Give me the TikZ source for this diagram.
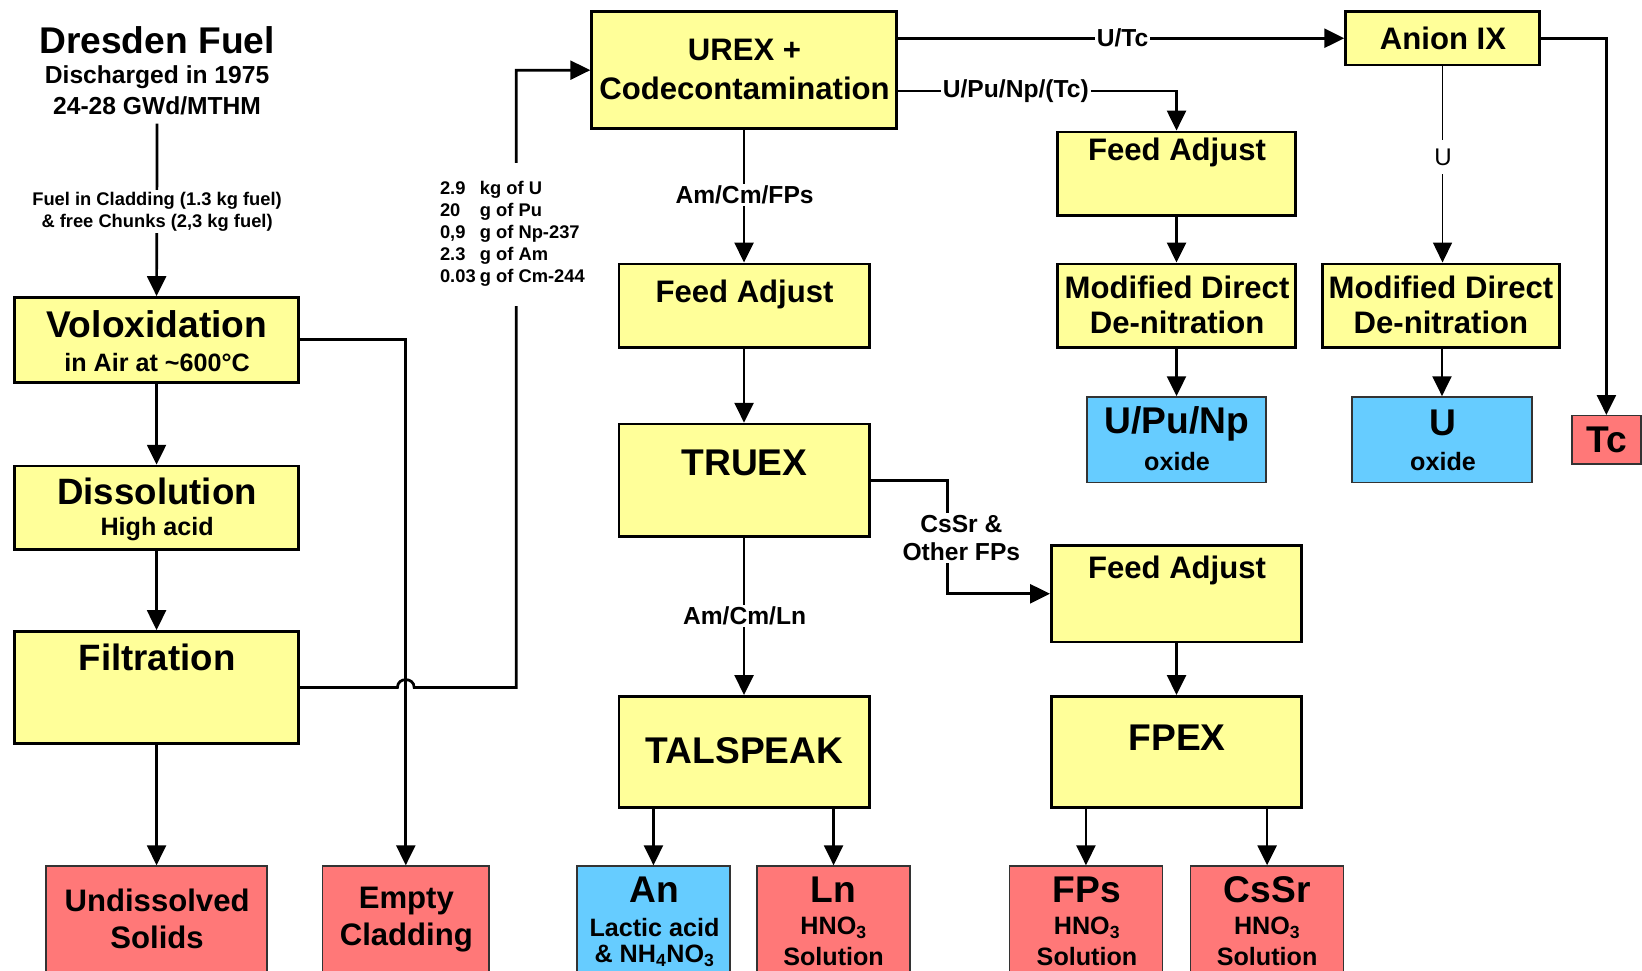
\documentclass[tikz,border=0pt]{standalone}
\usepackage{fontspec}
\setmainfont{Liberation Sans}
\usetikzlibrary{arrows.meta,fit,calc}
\definecolor{yel}{HTML}{FFFF99}
\definecolor{redb}{HTML}{FF7878}
\definecolor{blub}{HTML}{66CCFF}
\begin{document}
\begin{tikzpicture}[x=1pt,y=-1pt,
  ybox/.style={draw=black,line width=2.6pt,fill=yel,inner sep=0pt},
  rbox/.style={draw=black!80,line width=1.4pt,fill=redb,inner sep=0pt},
  bbox/.style={draw=black!80,line width=1.4pt,fill=blub,inner sep=0pt},
  conn/.style={line width=2.6pt,-{Triangle[length=19pt,width=18pt]}},
  thin conn/.style={line width=1.6pt,-{Triangle[length=19pt,width=18pt]}},
  big/.style={inner sep=0pt,font=\fontsize{35.5}{40}\selectfont\bfseries},
  bigb/.style={inner sep=0pt,font=\fontsize{35}{40}\selectfont\bfseries},
  med/.style={inner sep=0pt,font=\fontsize{29.7}{34}\selectfont\bfseries},
  sml/.style={inner sep=0pt,font=\fontsize{24}{28}\selectfont\bfseries},
  lab/.style={fill=white,inner sep=2pt,font=\fontsize{23.5}{27}\selectfont\bfseries,align=center},
  labr/.style={fill=white,inner sep=2pt,font=\fontsize{23}{26}\selectfont},
]
\clip (0,0) rectangle (1568,927);
\fill[white] (0,0) rectangle (1568,927);

% ---- boxes ----
\node[ybox,fit={(14,284)(285,365)}] (volox) {};
\node[ybox,fit={(14,445)(285,525)}] (diss) {};
\node[ybox,fit={(14,603)(285,710)}] (filt) {};
\node[rbox,fit={(44,827)(255,940)}] (undis) {};
\node[rbox,fit={(308,827)(467,940)}] (empty) {};
\node[ybox,fit={(565,11)(856,123)}] (urex) {};
\node[ybox,fit={(591,252)(830,332)}] (fa2) {};
\node[ybox,fit={(591,405)(830,512)}] (truex) {};
\node[ybox,fit={(591,665)(830,771)}] (tals) {};
\node[bbox,fit={(551,827)(697,940)}] (an) {};
\node[rbox,fit={(723,827)(869,940)}] (ln) {};
\node[ybox,fit={(1010,126)(1237,206)}] (fa1) {};
\node[ybox,fit={(1010,252)(1237,332)}] (mdd1) {};
\node[bbox,fit={(1038,379)(1209,461)}] (upu) {};
\node[ybox,fit={(1285,11)(1470,62)}] (anion) {};
\node[ybox,fit={(1263,252)(1489,332)}] (mdd2) {};
\node[bbox,fit={(1291,379)(1463,461)}] (uox) {};
\node[rbox,fit={(1501,397)(1567,443)}] (tc) {};
\node[ybox,fit={(1004,521)(1243,613)}] (fa3) {};
\node[ybox,fit={(1004,665)(1243,771)}] (fpex) {};
\node[rbox,fit={(964,827)(1110,940)}] (fps) {};
\node[rbox,fit={(1137,827)(1283,940)}] (cssr) {};

% ---- title ----
\node[inner sep=0pt,font=\fontsize{35.5}{40}\selectfont\bfseries] (dres1) at (150,38) {Dresden Fuel};
\node[inner sep=0pt,font=\fontsize{23.5}{27}\selectfont\bfseries] (dres2) at (150,74) {Discharged in 1975};
\node[inner sep=0pt,font=\fontsize{23.5}{27}\selectfont\bfseries] (dres3) at (150,101) {24-28 GWd/MTHM};

% ---- connectors ----
\draw[conn] ($(dres3.south)+(0,8)$) -- (volox.north);
\draw[conn] (volox) -- (diss);
\draw[conn] (diss) -- (filt);
\draw[conn] (filt) -- (undis);
\draw[conn] (volox.east) -| (empty.north);
\draw[conn] (filt.east) -- ($(empty.north |- filt.east)+(-8,0)$)
  .. controls ($(empty.north |- filt.east)+(-8,-10)$) and ($(empty.north |- filt.east)+(8,-10)$) ..
  ($(empty.north |- filt.east)+(8,0)$) -- (493,656.5) |- (urex.west);
\draw[conn] (urex.east |- anion.west) -- (anion.west);
\draw[conn] ($(urex.east)+(0,20)$) -| (fa1.north);
\draw[conn] (urex.south) -- (fa2.north);
\draw[conn] (fa2) -- (truex);
\draw[conn] (truex) -- (tals);
\draw[conn] (an.north |- tals.south) -- (an.north);
\draw[conn] (ln.north |- tals.south) -- (ln.north);
\draw[conn] (truex.east) -- (905,458.5) |- (fa3.west);
\draw[conn] (fa3) -- (fpex);
\draw[conn] (fps.north |- fpex.south) -- (fps.north);
\draw[conn] (cssr.north |- fpex.south) -- (cssr.north);
\draw[conn] (fa1) -- (mdd1);
\draw[conn] (mdd1) -- (upu);
\draw[thin conn] (anion.south) -- (anion.south |- mdd2.north);
\draw[conn] (mdd2.south -| uox.north) -- (uox.north);
\draw[conn] (anion.east) -| (tc.north);

% ---- connector labels ----
\node[lab,font=\fontsize{17.5}{21}\selectfont\bfseries] (flab) at (150,202)
  {Fuel in Cladding (1.3 kg fuel)\\\& free Chunks (2,3 kg fuel)};
\node[fill=white,inner xsep=2pt,inner ysep=16pt,anchor=west,
  font=\fontsize{17.5}{21}\selectfont\bfseries] (mass) at (418,224)
  {\begin{tabular}{@{}l@{\hspace{4pt}}l@{}}
   2.9 & kg of U\\ 20 & g of Pu\\ 0,9 & g of Np-237\\ 2.3 & g of Am\\ 0.03 & g of Cm-244
   \end{tabular}};
\node[lab] (lutc) at (1072,36) {U/Tc};
\node[lab] (lupu) at (970,87) {U/Pu/Np/(Tc)};
\node[lab] (lamfp) at (711,186) {Am/Cm/FPs};
\node[labr,inner ysep=8pt] (lu) at (1378,150) {U};
\node[lab] (lcssr) at (918,514) {CsSr \&\\Other FPs};
\node[lab] (lamln) at (711,588) {Am/Cm/Ln};

% ---- box texts ----
\node[big] at (150,310) {Voloxidation};
\node[sml] at (150,346) {in Air at \textasciitilde600\textdegree C};
\node[bigb] at (150,469) {Dissolution};
\node[sml] at (150,505) {High acid};
\node[bigb] at (150,628) {Filtration};
\node[med] at (150,860) {Undissolved};
\node[med] at (150,895) {Solids};
\node[med] at (388,860) {Empty};
\node[med] at (388,895) {Cladding};
\node[med] at (711,48) {UREX +};
\node[med] at (711,84) {Codecontamination};
\node[med] at (711,281) {Feed Adjust};
\node[big] at (711,442) {TRUEX};
\node[big] at (711,717) {TALSPEAK};
\node[big] at (625,850) {An};
\node[sml] at (625,886) {Lactic acid};
\node[sml] at (625,913) {\& NH\textsubscript{4}NO\textsubscript{3}};
\node[big] at (796,850) {Ln};
\node[sml] at (796,886) {HNO\textsubscript{3}};
\node[sml] at (796,913) {Solution};
\node[med] at (1124,146) {Feed Adjust};
\node[med] at (1124,274) {Modified Direct};
\node[med] at (1124,308) {De-nitration};
\node[big] at (1124,405) {U/Pu/Np};
\node[sml] at (1124,441) {oxide};
\node[med] at (1378,37) {Anion IX};
\node[med] at (1376,274) {Modified Direct};
\node[med] at (1376,308) {De-nitration};
\node[big] at (1378,404) {U};
\node[sml] at (1378,441) {oxide};
\node[big] at (1534,420) {Tc};
\node[med] at (1124,545) {Feed Adjust};
\node[big] at (1124,704) {FPEX};
\node[big] at (1038,850) {FPs};
\node[sml] at (1038,886) {HNO\textsubscript{3}};
\node[sml] at (1038,913) {Solution};
\node[big] at (1210,850) {CsSr};
\node[sml] at (1210,886) {HNO\textsubscript{3}};
\node[sml] at (1210,913) {Solution};
\end{tikzpicture}
\end{document}
